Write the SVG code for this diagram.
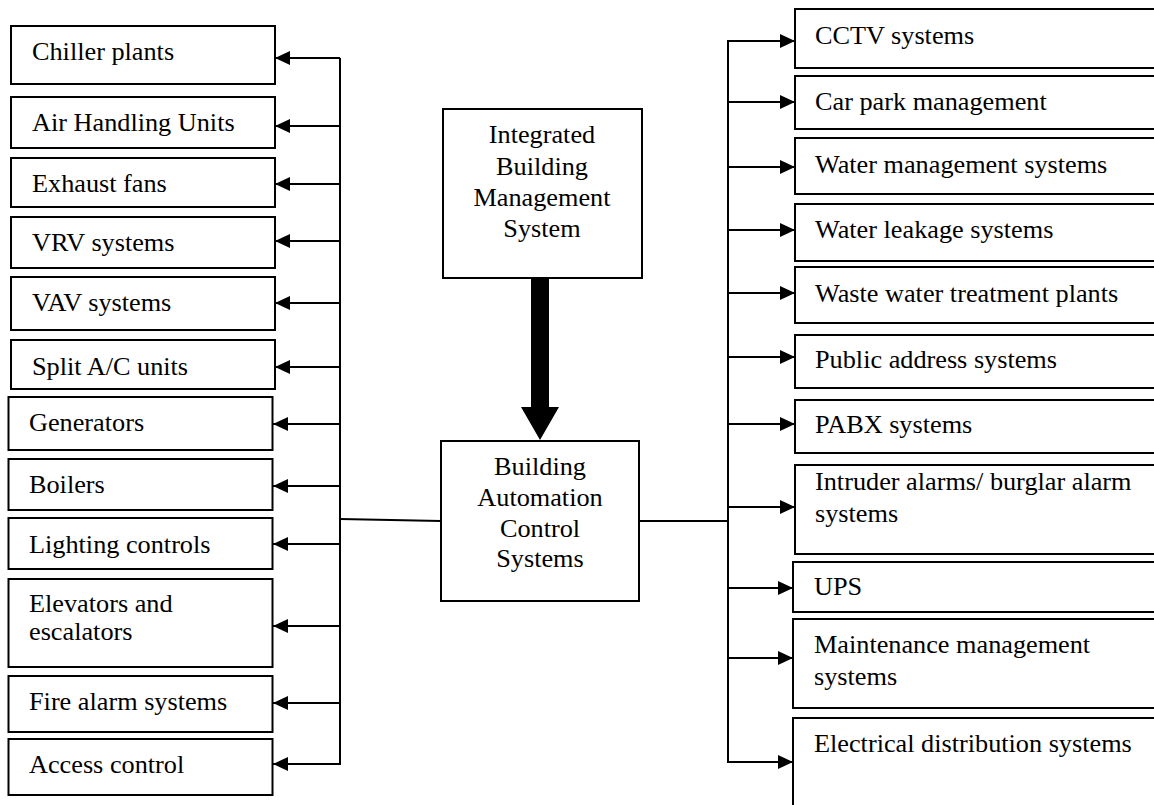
<svg xmlns="http://www.w3.org/2000/svg" width="1154" height="805" viewBox="0 0 1154 805">
<style>
.box{fill:#fff;stroke:#000;stroke-width:2}
.t{font-family:"Liberation Serif","Times New Roman",serif;font-size:25px;fill:#000}
.c{text-anchor:middle}
.ln{stroke:#000;stroke-width:2;fill:none}
.ar{stroke:#000;stroke-width:2;fill:none;marker-end:url(#ah)}
</style>
<defs>
<marker id="ah" markerUnits="userSpaceOnUse" markerWidth="16" markerHeight="15" refX="15" refY="7" orient="auto">
<path d="M0,0 L15,7 L0,14 z" fill="#000"/>
</marker>
</defs>
<rect width="1154" height="805" fill="#fff"/>

<g id="connectors">
<line class="ln" x1="340" y1="58" x2="340" y2="765"/>
<line class="ar" x1="340" y1="58" x2="275" y2="58"/>
<line class="ar" x1="340" y1="126" x2="275" y2="126"/>
<line class="ar" x1="340" y1="184" x2="275" y2="184"/>
<line class="ar" x1="340" y1="241" x2="275" y2="241"/>
<line class="ar" x1="340" y1="303" x2="275" y2="303"/>
<line class="ar" x1="340" y1="367" x2="275" y2="367"/>
<line class="ar" x1="340" y1="424" x2="273" y2="424"/>
<line class="ar" x1="340" y1="486" x2="273" y2="486"/>
<line class="ar" x1="340" y1="544" x2="273" y2="544"/>
<line class="ar" x1="340" y1="626" x2="273" y2="626"/>
<line class="ar" x1="340" y1="703" x2="273" y2="703"/>
<line class="ar" x1="340" y1="764" x2="273" y2="764"/>
<line class="ln" x1="340" y1="519" x2="441" y2="521" stroke-width="1.5"/>
<line class="ln" x1="639" y1="521" x2="728" y2="521"/>
<line class="ln" x1="728" y1="41" x2="728" y2="763"/>
<line class="ar" x1="727" y1="41" x2="795" y2="41"/>
<line class="ar" x1="727" y1="102" x2="795" y2="102"/>
<line class="ar" x1="727" y1="167" x2="795" y2="167"/>
<line class="ar" x1="727" y1="230" x2="795" y2="230"/>
<line class="ar" x1="727" y1="293" x2="795" y2="293"/>
<line class="ar" x1="727" y1="357" x2="795" y2="357"/>
<line class="ar" x1="727" y1="424" x2="795" y2="424"/>
<line class="ar" x1="727" y1="507" x2="795" y2="507"/>
<line class="ar" x1="727" y1="588" x2="793" y2="588"/>
<line class="ar" x1="727" y1="658" x2="793" y2="658"/>
<line class="ar" x1="727" y1="762" x2="793" y2="762"/>
<polygon points="531,278 549,278 549,407 559,407 540,440 521,407 531,407" fill="#000"/>
</g>

<g id="ibms">
<rect class="box" x="443" y="109" width="199" height="169"/>
<text class="t c" transform="translate(542,143) scale(1.05,1)">Integrated</text>
<text class="t c" transform="translate(542,175) scale(1.05,1)">Building</text>
<text class="t c" transform="translate(542,206) scale(1.05,1)">Management</text>
<text class="t c" transform="translate(542,237) scale(1.05,1)">System</text>
</g>
<g id="bacs">
<rect class="box" x="441" y="441" width="198" height="160"/>
<text class="t c" transform="translate(540,475) scale(1.05,1)">Building</text>
<text class="t c" transform="translate(540,506) scale(1.05,1)">Automation</text>
<text class="t c" transform="translate(540,537) scale(1.05,1)">Control</text>
<text class="t c" transform="translate(540,567) scale(1.05,1)">Systems</text>
</g>

<g id="chiller"><rect class="box" x="11" y="26" width="264" height="58"/><text class="t" transform="translate(32,60) scale(1.05,1)">Chiller plants</text></g>
<g id="ahu"><rect class="box" x="11" y="97" width="264" height="51"/><text class="t" transform="translate(32,131) scale(1.05,1)">Air Handling Units</text></g>
<g id="exhaust"><rect class="box" x="11" y="158" width="264" height="49"/><text class="t" transform="translate(32,192) scale(1.05,1)">Exhaust fans</text></g>
<g id="vrv"><rect class="box" x="11" y="217" width="264" height="51"/><text class="t" transform="translate(32,251) scale(1.05,1)">VRV systems</text></g>
<g id="vav"><rect class="box" x="11" y="277" width="264" height="53"/><text class="t" transform="translate(32,311) scale(1.05,1)">VAV systems</text></g>
<g id="split"><rect class="box" x="11" y="340" width="264" height="49"/><text class="t" transform="translate(32,375) scale(1.05,1)">Split A/C units</text></g>
<g id="generators"><rect class="box" x="8.5" y="397" width="264" height="53"/><text class="t" transform="translate(29,431) scale(1.05,1)">Generators</text></g>
<g id="boilers"><rect class="box" x="8.5" y="459" width="264" height="51"/><text class="t" transform="translate(29,493) scale(1.05,1)">Boilers</text></g>
<g id="lighting"><rect class="box" x="8.5" y="518" width="264" height="51"/><text class="t" transform="translate(29,553) scale(1.05,1)">Lighting controls</text></g>
<g id="elevators"><rect class="box" x="8.5" y="579" width="264" height="88"/><text class="t" transform="translate(29,612) scale(1.05,1)">Elevators and</text><text class="t" transform="translate(29,640) scale(1.05,1)">escalators</text></g>
<g id="fire"><rect class="box" x="8.5" y="676" width="264" height="56"/><text class="t" transform="translate(29,710) scale(1.05,1)">Fire alarm systems</text></g>
<g id="access"><rect class="box" x="8.5" y="739" width="264" height="56"/><text class="t" transform="translate(29,773) scale(1.05,1)">Access control</text></g>

<g id="cctv"><rect class="box" x="795" y="9" width="380" height="59"/><text class="t" transform="translate(815,43.5) scale(1.05,1)">CCTV systems</text></g>
<g id="carpark"><rect class="box" x="795" y="76" width="380" height="53"/><text class="t" transform="translate(815,110) scale(1.05,1)">Car park management</text></g>
<g id="watermgmt"><rect class="box" x="795" y="138" width="380" height="56"/><text class="t" transform="translate(815,173) scale(1.05,1)">Water management systems</text></g>
<g id="leakage"><rect class="box" x="795" y="204" width="380" height="57"/><text class="t" transform="translate(815,238) scale(1.05,1)">Water leakage systems</text></g>
<g id="waste"><rect class="box" x="795" y="267" width="380" height="56"/><text class="t" transform="translate(815,302) scale(1.05,1)">Waste water treatment plants</text></g>
<g id="pa"><rect class="box" x="795" y="335" width="380" height="53"/><text class="t" transform="translate(815,368) scale(1.05,1)">Public address systems</text></g>
<g id="pabx"><rect class="box" x="795" y="400" width="380" height="53"/><text class="t" transform="translate(815,433) scale(1.05,1)">PABX systems</text></g>
<g id="intruder"><rect class="box" x="795" y="465" width="380" height="89"/><text class="t" transform="translate(815,490) scale(1.05,1)">Intruder alarms/ burglar alarm</text><text class="t" transform="translate(815,522) scale(1.05,1)">systems</text></g>
<g id="ups"><rect class="box" x="793" y="562" width="380" height="50"/><text class="t" transform="translate(814,595) scale(1.05,1)">UPS</text></g>
<g id="maintenance"><rect class="box" x="793" y="619" width="380" height="89"/><text class="t" transform="translate(814,653) scale(1.05,1)">Maintenance management</text><text class="t" transform="translate(814,685) scale(1.05,1)">systems</text></g>
<g id="electrical"><rect class="box" x="793" y="718" width="380" height="110"/><text class="t" transform="translate(814,752) scale(1.05,1)">Electrical distribution systems</text></g>
</svg>
